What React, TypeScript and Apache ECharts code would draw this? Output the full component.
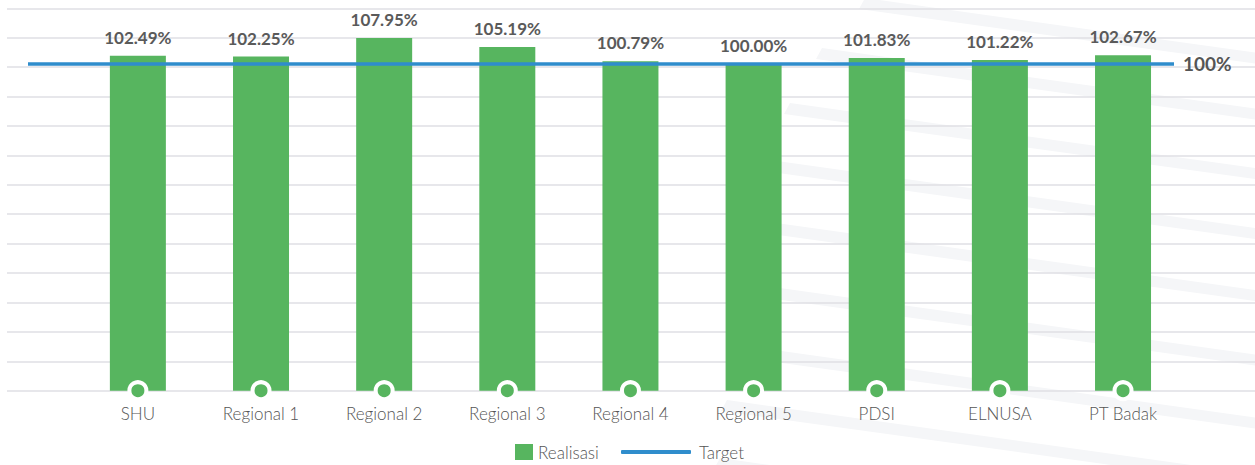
import React, { useEffect, useRef } from "react";
import * as echarts from "echarts";

const categories = ["SHU", "Regional 1", "Regional 2", "Regional 3", "Regional 4", "Regional 5", "PDSI", "ELNUSA", "PT Badak"];
const realisasi = [102.49, 102.25, 107.95, 105.19, 100.79, 100.0, 101.83, 101.22, 102.67];
const baseMarkers = [0, 0, 0, 0, 0, 0, 0, 0, 0];
const targetValue = 100;
const targetLabel = "100%";
const yMin = 0;
const yMax = 117;
const yInterval = 9;

const GREEN = "#57b55f";
const BLUE = "#2f8dcc";
const FONT = "Lato, 'Noto Sans', sans-serif";

// decorative diagonal stripes in the background: [startX, startY]
const stripeStarts: [number, number][] = [
  [865, -2], [822, 48], [790, 103], [770, 160], [755, 220], [745, 283], [738, 345], [727, 400], [720, 458],
];

function stripe([x0, y0]: [number, number]) {
  const slope = 0.14;
  const t = 11;
  const W = 1255;
  const y1 = y0 + slope * (W - x0);
  return {
    type: "polygon",
    z: -10,
    silent: true,
    shape: { points: [[x0, y0], [W, y1], [W, y1 + t], [x0 - 6, y0 + t]] },
    style: { fill: "#f5f6f8" },
  };
}

export default function App() {
  const ref = useRef<HTMLDivElement>(null);
  useEffect(() => {
    document.body.style.margin = "0";
    if (!ref.current) return;
    const chart = echarts.init(ref.current, undefined, { renderer: "svg" });
    const gridTop = 8.3;
    const gridBottom = 74.3;
    chart.setOption({
      animation: false,
      textStyle: { fontFamily: FONT },
      graphic: { elements: stripeStarts.map(stripe) },
      grid: [
        { left: 7, right: 0, top: gridTop, bottom: gridBottom },
        { left: 76.3, right: 70.4, top: gridTop, bottom: gridBottom },
      ],
      xAxis: [
        { gridIndex: 0, type: "value", min: 0, max: 1, show: false },
        {
          gridIndex: 1,
          type: "category",
          data: categories,
          axisLine: { show: false },
          axisTick: { show: false },
          axisLabel: { color: "#555", fontSize: 17, fontWeight: 300, margin: 14, fontFamily: FONT },
        },
      ],
      yAxis: [
        {
          gridIndex: 0,
          type: "value",
          min: yMin,
          max: yMax,
          interval: yInterval,
          axisLabel: { show: false },
          axisLine: { show: false },
          axisTick: { show: false },
          splitLine: { show: true, lineStyle: { color: "#dfdfe4", width: 1.5 } },
        },
        {
          gridIndex: 1,
          type: "value",
          min: yMin,
          max: yMax,
          interval: yInterval,
          show: false,
          splitLine: { show: false },
        },
      ],
      legend: [
        {
          data: ["Realisasi"],
          left: 515,
          top: 443.5,
          padding: 0,
          icon: "rect",
          itemWidth: 18,
          itemHeight: 16,
          textStyle: { color: "#555", fontSize: 17, fontWeight: 300, fontFamily: FONT },
        },
        {
          data: ["Target"],
          left: 621,
          top: 443.5,
          padding: 0,
          icon: "roundRect",
          itemWidth: 70,
          itemHeight: 4,
          textStyle: { color: "#555", fontSize: 17, fontWeight: 300, fontFamily: FONT, padding: [0, 0, 0, 3] },
        },
      ],
      series: [
        {
          name: "Realisasi",
          type: "bar",
          xAxisIndex: 1,
          yAxisIndex: 1,
          data: realisasi,
          barWidth: 56,
          itemStyle: { color: GREEN },
          label: {
            show: true,
            position: "top",
            distance: 10,
            color: "#5a5a5a",
            fontSize: 17,
            fontWeight: "bold",
            fontFamily: FONT,
            formatter: (p: any) => Number(p.value).toFixed(2) + "%",
          },
          z: 2,
        },
        {
          name: "Target",
          type: "line",
          xAxisIndex: 1,
          yAxisIndex: 1,
          data: [],
          symbol: "none",
          itemStyle: { color: BLUE },
          lineStyle: { color: BLUE, width: 3.5 },
          markLine: {
            silent: true,
            symbol: "none",
            lineStyle: { color: BLUE, width: 3.5, type: "solid" },
            label: {
              show: true,
              position: "end",
              distance: 9,
              formatter: targetLabel,
              color: "#555",
              fontSize: 19,
              fontWeight: "bold",
              fontFamily: FONT,
            },
            data: [[{ x: 28, yAxis: targetValue }, { x: 1174, yAxis: targetValue }]],
          },
          z: 3,
        },
        {
          name: "base",
          type: "scatter",
          xAxisIndex: 1,
          yAxisIndex: 1,
          data: baseMarkers,
          symbol: "circle",
          symbolSize: 17,
          clip: false,
          itemStyle: { color: GREEN, borderColor: "#fff", borderWidth: 4, opacity: 1 },
          z: 4,
          silent: true,
        },
      ],
    });
    return () => chart.dispose();
  }, []);
  return <div ref={ref} style={{ width: 1255, height: 465 }} />;
}
